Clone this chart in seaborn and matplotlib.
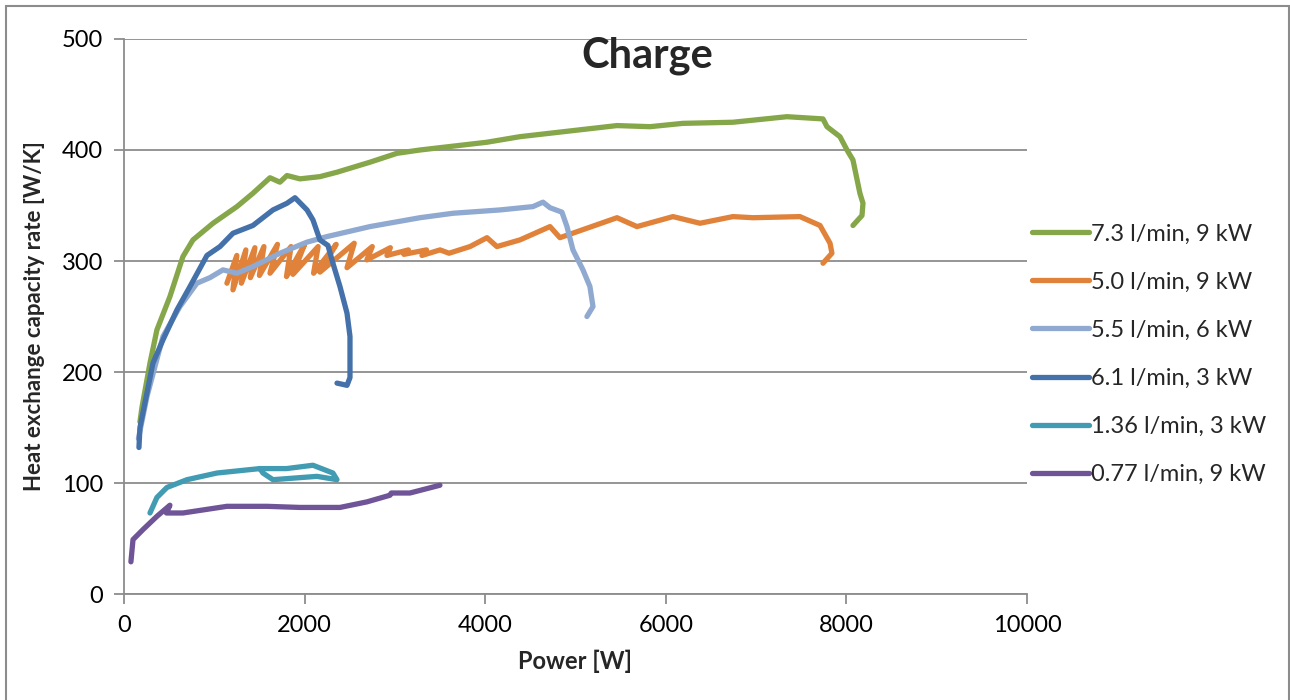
import pandas as pd
import matplotlib
import matplotlib.pyplot as plt
import seaborn as sns
from matplotlib.patches import Rectangle

matplotlib.use('Agg')

# Series: power [W] and heat exchange capacity rate [W/K]
green_w = [177, 199, 288, 365, 509, 653, 764, 986, 1251, 1428, 1617, 1727, 1805, 1949, 2170, 2359,
           2724, 3023, 3278, 4020, 4385, 5460, 5825, 6190, 6744, 7342, 7741, 7785, 7929, 8007, 8073,
           8150, 8184, 8173, 8073]
green_v = [155, 168, 208, 238, 268, 304, 319, 334, 349, 361, 375, 371, 377, 374, 376, 380,
           389, 397, 400, 407, 412, 422, 421, 424, 425, 430, 428, 421, 412, 400, 391,
           361, 352, 341, 332]

orange_w = [1140, 1250, 1207, 1350, 1300, 1450, 1400, 1550, 1500, 1700, 1617, 1850, 1800, 2000,
            1871, 2150, 2100, 2350, 2170, 2550, 2470, 2750, 2690, 2950, 2912, 3150, 3100, 3350,
            3300, 3500, 3600, 3832, 4020, 4130, 4385, 4718, 4828, 5460, 5681, 6080, 6379, 6744,
            6966, 7486, 7708, 7819, 7840, 7741]
orange_v = [280, 305, 274, 310, 280, 312, 285, 313, 287, 315, 289, 313, 286, 315,
            288, 313, 289, 315, 290, 316, 294, 313, 301, 312, 305, 310, 306, 310,
            305, 310, 307, 313, 321, 313, 319, 331, 321, 339, 331, 340, 334, 340,
            339, 340, 332, 316, 307, 298]

lblue_w = [160, 255, 432, 620, 808, 952, 1096, 1251, 1428, 1727, 2027, 2248, 2724, 3278, 3643,
           4164, 4529, 4640, 4718, 4850, 4906, 4972, 5083, 5160, 5194, 5127]
lblue_v = [140, 178, 232, 259, 280, 285, 292, 289, 295, 307, 317, 322, 331, 339, 343,
           346, 349, 353, 348, 344, 331, 310, 292, 277, 259, 250]

dblue_w = [166, 177, 321, 432, 587, 731, 919, 1063, 1207, 1428, 1650, 1805, 1894, 2027, 2093,
           2170, 2259, 2314, 2392, 2470, 2503, 2503, 2470, 2359]
dblue_v = [132, 150, 208, 229, 256, 277, 305, 313, 325, 332, 346, 352, 357, 346, 337,
           319, 314, 298, 277, 253, 232, 195, 188, 190]

teal_w = [288, 365, 476, 698, 1030, 1506, 1800, 2093, 2314, 2359, 2137, 1650, 1539, 1506]
teal_v = [73, 87, 96, 103, 109, 113, 113, 116, 109, 103, 106, 103, 109, 113]

purple_w = [77, 100, 210, 365, 509, 470, 653, 1140, 1583, 1949, 2392, 2690, 2946, 2960, 3167, 3499]
purple_v = [29, 49, 58, 70, 80, 73, 73, 79, 79, 78, 78, 83, 89, 91, 91, 98]

labels = ['7.3 l/min, 9 kW', '5.0 l/min, 9 kW', '5.5 l/min, 6 kW',
          '6.1 l/min, 3 kW', '1.36 l/min, 3 kW', '0.77 l/min, 9 kW']
colors = ['#86A64A', '#E0823A', '#8FA9D0', '#4471A9', '#419BB2', '#6F5597']

series = [(green_w, green_v), (orange_w, orange_v), (lblue_w, lblue_v),
          (dblue_w, dblue_v), (teal_w, teal_v), (purple_w, purple_v)]

frames = []
for lab, (w, v) in zip(labels, series):
    part = pd.DataFrame({'Power': w, 'Rate': v})
    part['Series'] = lab
    frames.append(part)
df = pd.concat(frames, ignore_index=True)

sns.set_style('white')
plt.rcParams['font.family'] = ['Lato', 'DejaVu Sans']

fig = plt.figure(figsize=(12.9, 7), dpi=100)
ax = fig.add_axes([0.0961, 0.1514, 0.7, 0.7929])

sns.lineplot(data=df, x='Power', y='Rate', hue='Series', hue_order=labels,
             palette=colors, sort=False, estimator=None, units='Series',
             linewidth=3.8, ax=ax, legend=True)

ax.set_xlim(0, 10000)
ax.set_ylim(0, 500)
ax.set_xticks(range(0, 10001, 2000))
ax.set_yticks(range(0, 501, 100))
ax.grid(axis='y', color='#8C8C8C', linewidth=1.3)
ax.grid(axis='x', visible=False)
ax.set_axisbelow(True)
for side in ['top', 'right']:
    ax.spines[side].set_visible(False)
for side in ['left', 'bottom']:
    ax.spines[side].set_color('#8C8C8C')
    ax.spines[side].set_linewidth(1.3)
ax.tick_params(axis='both', direction='out', length=7, width=1.3, color='#8C8C8C',
               labelsize=17, labelcolor='black', left=True, bottom=True)
ax.tick_params(axis='y', pad=8)
ax.tick_params(axis='x', pad=8)

ax.set_xlabel('Power [W]', fontsize=17, fontweight='bold', labelpad=10)
ax.set_ylabel('Heat exchange capacity rate [W/K]', fontsize=16, fontweight='bold', labelpad=12)
fig.text(0.502, 0.948, 'Charge', ha='center', va='top', fontsize=30, fontweight='bold')

handles, labs = ax.get_legend_handles_labels()
leg = ax.legend(handles, labs, loc='center left', bbox_to_anchor=(0.995, 0.432),
                frameon=False, fontsize=17, handlelength=2.4, handletextpad=0.1,
                labelspacing=1.15, borderaxespad=0)
for line in leg.get_lines():
    line.set_linewidth(3.8)
    line.set_solid_capstyle('round')

fig.patches.append(Rectangle((0.0047, -0.01), 0.9945, 1.0014,
                             transform=fig.transFigure, fill=False,
                             edgecolor='#8C8C8C', linewidth=1.5))

plt.savefig('out.png', dpi=100)
print("Chart saved as 'out.png'")
